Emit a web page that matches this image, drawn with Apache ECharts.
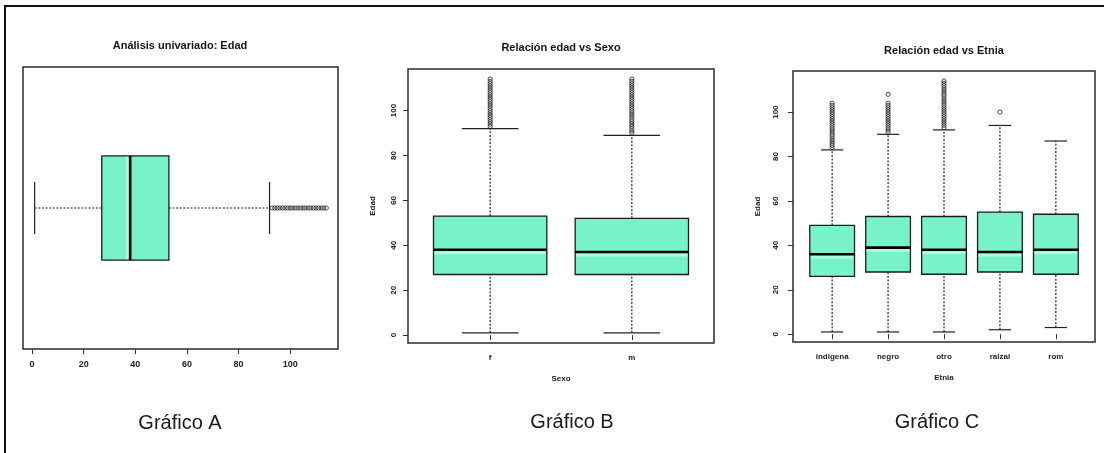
<!DOCTYPE html>
<html>
<head>
<meta charset="utf-8">
<style>
  html, body { margin: 0; padding: 0; background: #fff; }
  #chart { width: 1104px; height: 453px; }
</style>
<script src="https://cdn.jsdelivr.net/npm/echarts@6/dist/echarts.min.js"></script>
</head>
<body>
<div id="chart"></div>
<script>
// Five-number summaries: [lower whisker, Q1, median, Q3, upper whisker]
const ageStats = [1, 27, 38, 53, 92];
const ageOutliers = [93, 94, 95, 96, 97, 98, 99, 100, 101, 102, 103, 104, 105, 106, 107, 108, 109, 110, 111, 112, 113, 114];

const sexCategories = ['f', 'm'];
const sexStats = [
  [1, 27, 38, 53, 92],
  [1, 27, 37, 52, 89]
];
const sexOutliers = [
  [93, 94, 95, 96, 97, 98, 99, 100, 101, 102, 103, 104, 105, 106, 107, 108, 109, 110, 111, 112, 113, 114],
  [90, 91, 92, 93, 94, 95, 96, 97, 98, 99, 100, 101, 102, 103, 104, 105, 106, 107, 108, 109, 110, 111, 112, 113, 114]
];

const ethnicCategories = ['indigena', 'negro', 'otro', 'raizal', 'rom'];
const ethnicStats = [
  [1, 26, 36, 49, 83],
  [1, 28, 39, 53, 90],
  [1, 27, 38, 53, 92],
  [2, 28, 37, 55, 94],
  [3, 27, 38, 54, 87]
];
const ethnicOutliers = [
  [84, 85, 86, 87, 88, 89, 90, 91, 92, 93, 94, 95, 96, 97, 98, 99, 100, 101, 102, 103, 104],
  [91, 92, 93, 94, 95, 96, 97, 98, 99, 100, 101, 102, 103, 104, 108],
  [93, 94, 95, 96, 97, 98, 99, 100, 101, 102, 103, 104, 105, 106, 107, 108, 109, 110, 111, 112, 113, 114],
  [100],
  []
];

const ageTicks = [0, 20, 40, 60, 80, 100];

const FONT = '"Liberation Sans", Arial, Helvetica, sans-serif';
const INK = '#141414';
const BOX_FILL = '#78f2c8';

// R-style axis range: data range widened by 4% on each side
function padRange(lo, hi) {
  const d = (hi - lo) * 0.04;
  return [lo - d, hi + d];
}
function valueRange(stats, outliers) {
  const all = stats.flat().concat(outliers.flat());
  return padRange(Math.min(...all), Math.max(...all));
}
const ageRangeA = valueRange([ageStats], [ageOutliers]);
const ageRangeB = valueRange(sexStats, sexOutliers);
const ageRangeC = valueRange(ethnicStats, ethnicOutliers);
const groupRange = n => padRange(0.5, n + 0.5);

// Box-and-whisker glyph drawn through the axis scales
function makeBoxRenderer(horizontal, halfBox) {
  const halfCap = halfBox / 2;
  return function (params, api) {
    const p = api.value(0);
    const lo = api.value(1), q1 = api.value(2), med = api.value(3), q3 = api.value(4), hi = api.value(5);
    const at = (off, v) => horizontal ? api.coord([v, p + off]) : api.coord([p + off, v]);
    const seg = (a, b, style) => ({ type: 'line', shape: { x1: a[0], y1: a[1], x2: b[0], y2: b[1] }, style });
    const dashed = { stroke: '#222', lineWidth: 1.2, lineDash: [2, 1.6] };
    const solid = { stroke: '#222', lineWidth: 1.2 };
    const c1 = at(-halfBox, q1), c2 = at(halfBox, q3);
    const box = {
      x: Math.min(c1[0], c2[0]), y: Math.min(c1[1], c2[1]),
      width: Math.abs(c2[0] - c1[0]), height: Math.abs(c2[1] - c1[1])
    };
    const m1 = at(-halfBox, med), m2 = at(halfBox, med);
    const glow = horizontal
      ? { x: m1[0] - 4.5, y: box.y + 1, width: 3.2, height: box.height - 2 }
      : { x: box.x + 1, y: m1[1] + 1.3, width: box.width - 2, height: 3.2 };
    return {
      type: 'group',
      children: [
        seg(at(0, lo), at(0, q1), dashed),
        seg(at(0, q3), at(0, hi), dashed),
        seg(at(-halfCap, lo), at(halfCap, lo), solid),
        seg(at(-halfCap, hi), at(halfCap, hi), solid),
        { type: 'rect', shape: box, style: { fill: BOX_FILL, stroke: '#1c1c1c', lineWidth: 1.3 } },
        { type: 'rect', shape: glow, style: { fill: '#a9fbe6' } },
        seg(m1, m2, { stroke: '#000', lineWidth: 2.6 })
      ]
    };
  };
}

function outlierPoints(outliers, horizontal) {
  const pts = [];
  outliers.forEach((list, i) => list.forEach(v => pts.push(horizontal ? [v, i + 1] : [i + 1, v])));
  return pts;
}

const outlierStyle = {
  type: 'scatter', symbol: 'circle', symbolSize: 4.2, silent: true, z: 5,
  itemStyle: { color: 'rgba(0,0,0,0)', borderColor: '#222', borderWidth: 1 }
};

const tickLabel = { fontFamily: FONT, fontSize: 8, fontWeight: 'bold', color: '#222' };
const nameStyle = { fontFamily: FONT, fontSize: 8, fontWeight: 'bold', color: '#222' };
const tickStyle = { length: 5, lineStyle: { color: '#333', width: 1 } };
const gridFrame = { show: true, borderColor: '#2b2b2b', borderWidth: 1.5, backgroundColor: 'rgba(0,0,0,0)' };

const option = {
  animation: false,
  backgroundColor: '#fff',
  grid: [
    Object.assign({ left: 23, top: 67, width: 315, height: 282 }, gridFrame),
    Object.assign({ left: 408, top: 69, width: 306, height: 274 }, gridFrame),
    Object.assign({ left: 793, top: 71, width: 302, height: 271 }, gridFrame)
  ],
  xAxis: [
    {
      gridIndex: 0, type: 'value', min: ageRangeA[0], max: ageRangeA[1],
      axisLine: { show: false }, splitLine: { show: false },
      axisTick: Object.assign({ customValues: ageTicks }, tickStyle),
      axisLabel: Object.assign({}, tickLabel, { customValues: ageTicks, margin: 11, fontSize: 9 })
    },
    {
      gridIndex: 1, type: 'value', min: groupRange(sexCategories.length)[0], max: groupRange(sexCategories.length)[1],
      name: 'Sexo', nameLocation: 'middle', nameGap: 32, nameTextStyle: nameStyle,
      axisLine: { show: false }, splitLine: { show: false },
      axisTick: Object.assign({ customValues: sexCategories.map((c, i) => i + 1) }, tickStyle),
      axisLabel: Object.assign({ customValues: sexCategories.map((c, i) => i + 1), margin: 11,
        formatter: v => sexCategories[Math.round(v) - 1] || '' }, tickLabel)
    },
    {
      gridIndex: 2, type: 'value', min: groupRange(ethnicCategories.length)[0], max: groupRange(ethnicCategories.length)[1],
      name: 'Etnia', nameLocation: 'middle', nameGap: 32, nameTextStyle: nameStyle,
      axisLine: { show: false }, splitLine: { show: false },
      axisTick: Object.assign({ customValues: ethnicCategories.map((c, i) => i + 1) }, tickStyle),
      axisLabel: Object.assign({ customValues: ethnicCategories.map((c, i) => i + 1), margin: 11,
        formatter: v => ethnicCategories[Math.round(v) - 1] || '' }, tickLabel)
    }
  ],
  yAxis: [
    { gridIndex: 0, type: 'value', min: groupRange(1)[0], max: groupRange(1)[1], show: false },
    {
      gridIndex: 1, type: 'value', min: ageRangeB[0], max: ageRangeB[1],
      name: 'Edad', nameLocation: 'middle', nameGap: 31, nameTextStyle: nameStyle,
      axisLine: { show: false }, splitLine: { show: false },
      axisTick: Object.assign({ customValues: ageTicks }, tickStyle),
      axisLabel: Object.assign({ customValues: ageTicks, rotate: 90, margin: 10 }, tickLabel)
    },
    {
      gridIndex: 2, type: 'value', min: ageRangeC[0], max: ageRangeC[1],
      name: 'Edad', nameLocation: 'middle', nameGap: 31, nameTextStyle: nameStyle,
      axisLine: { show: false }, splitLine: { show: false },
      axisTick: Object.assign({ customValues: ageTicks }, tickStyle),
      axisLabel: Object.assign({ customValues: ageTicks, rotate: 90, margin: 13 }, tickLabel)
    }
  ],
  series: [
    {
      type: 'custom', xAxisIndex: 0, yAxisIndex: 0,
      renderItem: makeBoxRenderer(true, 0.2),
      encode: { x: [1, 2, 3, 4, 5], y: 0 },
      data: [[1].concat(ageStats)]
    },
    Object.assign({ xAxisIndex: 0, yAxisIndex: 0, data: outlierPoints([ageOutliers], true) }, outlierStyle),
    {
      type: 'custom', xAxisIndex: 1, yAxisIndex: 1,
      renderItem: makeBoxRenderer(false, 0.4),
      encode: { x: 0, y: [1, 2, 3, 4, 5] },
      data: sexStats.map((s, i) => [i + 1].concat(s))
    },
    Object.assign({ xAxisIndex: 1, yAxisIndex: 1, data: outlierPoints(sexOutliers, false) }, outlierStyle),
    {
      type: 'custom', xAxisIndex: 2, yAxisIndex: 2,
      renderItem: makeBoxRenderer(false, 0.4),
      encode: { x: 0, y: [1, 2, 3, 4, 5] },
      data: ethnicStats.map((s, i) => [i + 1].concat(s))
    },
    Object.assign({ xAxisIndex: 2, yAxisIndex: 2, data: outlierPoints(ethnicOutliers, false) }, outlierStyle)
  ],
  graphic: [
    { type: 'line', shape: { x1: 5, y1: 6, x2: 1104, y2: 6 }, style: { stroke: '#111', lineWidth: 2 } },
    { type: 'line', shape: { x1: 5, y1: 5, x2: 5, y2: 453 }, style: { stroke: '#111', lineWidth: 2 } },
    { type: 'text', x: 180, y: 46, style: { text: 'Análisis univariado: Edad', align: 'center', verticalAlign: 'middle', font: 'bold 11px ' + FONT, fill: INK } },
    { type: 'text', x: 561, y: 48, style: { text: 'Relación edad vs Sexo', align: 'center', verticalAlign: 'middle', font: 'bold 11px ' + FONT, fill: INK } },
    { type: 'text', x: 944, y: 51, style: { text: 'Relación edad vs Etnia', align: 'center', verticalAlign: 'middle', font: 'bold 11px ' + FONT, fill: INK } },
    { type: 'text', x: 180, y: 423, style: { text: 'Gráfico A', align: 'center', verticalAlign: 'middle', font: '20px ' + FONT, fill: '#1a1a1a' } },
    { type: 'text', x: 572, y: 422, style: { text: 'Gráfico B', align: 'center', verticalAlign: 'middle', font: '20px ' + FONT, fill: '#1a1a1a' } },
    { type: 'text', x: 937, y: 422, style: { text: 'Gráfico C', align: 'center', verticalAlign: 'middle', font: '20px ' + FONT, fill: '#1a1a1a' } }
  ]
};

const chart = echarts.init(document.getElementById('chart'), null, { renderer: 'canvas' });
chart.setOption(option);
</script>
</body>
</html>
